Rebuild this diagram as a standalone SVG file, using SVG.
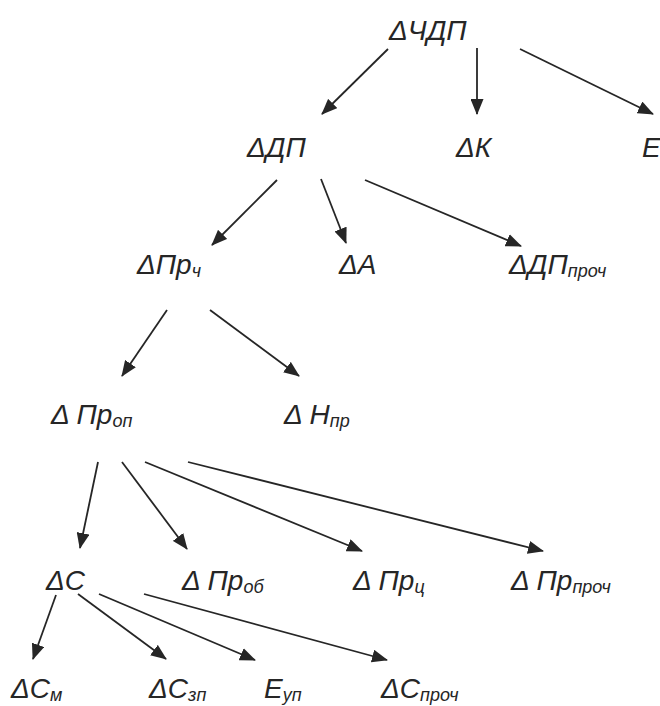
<svg xmlns="http://www.w3.org/2000/svg" width="660" height="706" viewBox="0 0 660 706">
<style>
.t{font-family:"Liberation Sans",Arial,sans-serif;font-style:italic;font-size:28px;fill:#262626}
.s{font-size:18px}
.c line{stroke:#262626;stroke-width:1.8;marker-end:url(#ah)}
</style>
<defs>
<marker id="ah" markerUnits="userSpaceOnUse" markerWidth="16" markerHeight="13" refX="15" refY="6.5" orient="auto" viewBox="0 0 16 13">
<path d="M0,0 L16,6.5 L0,13 z" fill="#262626"/>
</marker>
</defs>
<rect width="660" height="706" fill="#fff"/>
<g id="n_chdp"><text class="t" x="389" y="40">ΔЧДП</text></g>
<g id="n_dp"><text class="t" x="247" y="157">ΔДП</text></g>
<g id="n_k"><text class="t" x="456" y="157">ΔК</text></g>
<g id="n_e"><text class="t" x="642" y="157">Е</text></g>
<g id="n_prch"><text class="t" x="137" y="274">ΔПр<tspan class="s" dy="3">ч</tspan></text></g>
<g id="n_a"><text class="t" x="339" y="274">ΔА</text></g>
<g id="n_dpproch"><text class="t" x="509" y="274">ΔДП<tspan class="s" dy="3">проч</tspan></text></g>
<g id="n_prop"><text class="t" x="51" y="424">Δ Пр<tspan class="s" dy="3">оп</tspan></text></g>
<g id="n_npr"><text class="t" x="284" y="424">Δ Н<tspan class="s" dy="3">пр</tspan></text></g>
<g id="n_c"><text class="t" x="46" y="590">ΔС</text></g>
<g id="n_prob"><text class="t" x="182" y="590">Δ Пр<tspan class="s" dy="3">об</tspan></text></g>
<g id="n_prc"><text class="t" x="353" y="590">Δ Пр<tspan class="s" dy="3">ц</tspan></text></g>
<g id="n_prproch"><text class="t" x="511" y="590">Δ Пр<tspan class="s" dy="3">проч</tspan></text></g>
<g id="n_cm"><text class="t" x="11" y="698">ΔС<tspan class="s" dy="3">м</tspan></text></g>
<g id="n_czp"><text class="t" x="149" y="698">ΔС<tspan class="s" dy="3">зп</tspan></text></g>
<g id="n_eup"><text class="t" x="264" y="698">Е<tspan class="s" dy="3">уп</tspan></text></g>
<g id="n_cproch"><text class="t" x="381" y="698">ΔС<tspan class="s" dy="3">проч</tspan></text></g>
<g id="connectors" class="c">
<line x1="388" y1="49" x2="322" y2="114"/>
<line x1="477" y1="48" x2="477" y2="114"/>
<line x1="520" y1="49" x2="653" y2="114"/>
<line x1="277" y1="180" x2="212" y2="245"/>
<line x1="321" y1="179" x2="346" y2="243"/>
<line x1="365" y1="180" x2="521" y2="246"/>
<line x1="167" y1="310" x2="122" y2="376"/>
<line x1="210" y1="310" x2="299" y2="376"/>
<line x1="98" y1="462" x2="80" y2="548"/>
<line x1="122" y1="462" x2="187" y2="549"/>
<line x1="145" y1="462" x2="362" y2="551"/>
<line x1="188" y1="462" x2="543" y2="551"/>
<line x1="56" y1="595" x2="33" y2="659"/>
<line x1="78" y1="594" x2="166" y2="659"/>
<line x1="99" y1="594" x2="255" y2="660"/>
<line x1="144" y1="594" x2="387" y2="660"/>
</g>
</svg>
